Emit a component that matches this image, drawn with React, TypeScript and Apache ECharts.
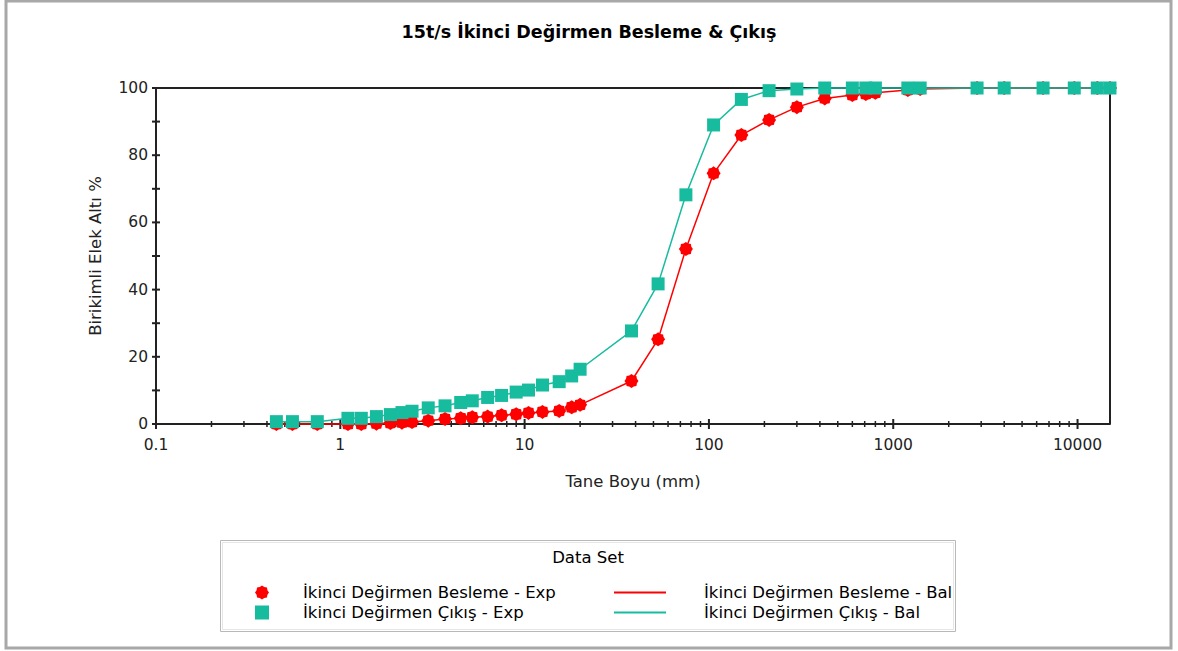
import React, { useEffect, useRef } from "react";
import * as echarts from "echarts";

// ---- data ----
const sizesMm = [
  0.45, 0.55, 0.75, 1.1, 1.3, 1.57, 1.87, 2.16, 2.45, 3.0, 3.7, 4.5, 5.2, 6.3, 7.5, 9.0, 10.5,
  12.5, 15.4, 18, 20, 38, 53, 75, 106, 150, 212, 300, 425, 600, 710, 800, 1200, 1400, 2850,
  4000, 6500, 9600, 12800, 15000,
];
const beslemeExp = [
  0, 0, 0, 0, 0, 0.1, 0.3, 0.4, 0.6, 1.0, 1.5, 1.7, 2.0, 2.2, 2.6, 2.9, 3.3,
  3.6, 3.9, 5.0, 5.7, 12.8, 25.2, 52.1, 74.6, 86.0, 90.5, 94.3, 96.9, 97.9, 98.2, 98.6, 99.4, 99.7, 100,
  100, 100, 100, 100, 100,
];
const cikisExp = [
  0.7, 0.7, 0.7, 1.7, 1.7, 2.2, 2.8, 3.4, 3.8, 4.8, 5.4, 6.4, 6.9, 7.9, 8.5, 9.5, 10.1,
  11.6, 12.6, 14.3, 16.3, 27.7, 41.7, 68.2, 89.0, 96.6, 99.2, 99.7, 100, 100, 100, 100, 100, 100, 100,
  100, 100, 100, 100, 100,
];
const beslemeBal = beslemeExp;
const cikisBal = cikisExp;

const xMajorTicks = [0.1, 1, 10, 100, 1000, 10000];
const xMinorTicks = [
  0.2, 0.3, 0.4, 0.5, 0.6, 0.7, 0.8, 0.9,
  2, 3, 4, 5, 6, 7, 8, 9,
  20, 30, 40, 50, 60, 70, 80, 90,
  200, 300, 400, 500, 600, 700, 800, 900,
  2000, 3000, 4000, 5000, 6000, 7000, 8000, 9000,
];
const yTicks = [0, 10, 20, 30, 40, 50, 60, 70, 80, 90, 100];

const TITLE = "15t/s İkinci Değirmen Besleme & Çıkış";
const NAMES = [
  "İkinci Değirmen Besleme - Exp",
  "İkinci Değirmen Çıkış - Exp",
  "İkinci Değirmen Besleme - Bal",
  "İkinci Değirmen Çıkış - Bal",
];

const RED = "#ff0000";
const TEAL = "#17bc9f";
const FONT = "DejaVu Sans";

// flower-like marker (16-vertex star)
function starPath(): string {
  const pts: string[] = [];
  for (let i = 0; i < 16; i++) {
    const a = (i * Math.PI) / 8 - Math.PI / 2;
    const r = i % 2 === 0 ? 10 : 8.4;
    pts.push(`${(10 + r * Math.cos(a)).toFixed(2)} ${(10 + r * Math.sin(a)).toFixed(2)}`);
  }
  return "path://M" + pts.join(" L") + " Z";
}
const STAR = starPath();

export default function App() {
  const ref = useRef<HTMLDivElement>(null);
  useEffect(() => {
    if (!ref.current) return;
    const chart = echarts.init(ref.current, undefined, { renderer: "svg" });
    const pair = (xs: number[], ys: number[]) => xs.map((x, i) => [x, ys[i]]);
    const tickData = [
      ...xMajorTicks.map((v) => [v, 1, 0]),
      ...xMinorTicks.map((v) => [v, 0, 0]),
    ];
    const yTickData = yTicks.map((v) => [0.1, v % 20 === 0 ? 1 : 0, v]);

    chart.setOption({
      animation: false,
      backgroundColor: "#ffffff",
      textStyle: { fontFamily: FONT },
      title: {
        text: TITLE,
        left: "center",
        top: 18,
        textStyle: { fontFamily: FONT, fontSize: 17.5, fontWeight: "bold", color: "#000" },
      },
      grid: { left: 156, right: 68, top: 88, bottom: 227, containLabel: false },
      xAxis: {
        type: "log",
        logBase: 10,
        min: 0.1,
        max: 15000,
        name: "Tane Boyu (mm)",
        nameLocation: "middle",
        nameGap: 49,
        nameTextStyle: { fontFamily: FONT, fontSize: 16.5, color: "#222" },
        axisLine: { show: true, lineStyle: { color: "#222", width: 2 } },
        axisTick: { show: false },
        minorTick: { show: false },
        splitLine: { show: false },
        axisLabel: {
          margin: 13,
          fontFamily: FONT,
          fontSize: 15.5,
          color: "#222",
          formatter: (v: number) => (v < 1 ? String(v) : String(Math.round(v))),
        },
      },
      yAxis: {
        type: "value",
        min: 0,
        max: 100,
        interval: 20,
        name: "Birikimli Elek Altı %",
        nameLocation: "middle",
        nameGap: 52,
        nameTextStyle: { fontFamily: FONT, fontSize: 16.5, color: "#222" },
        axisLine: { show: true, lineStyle: { color: "#222", width: 2 } },
        axisTick: { show: false },
        splitLine: { show: false },
        axisLabel: { margin: 8, fontFamily: FONT, fontSize: 15.5, color: "#222" },
      },
      legend: [
        {
          data: [NAMES[0], NAMES[1]],
          orient: "vertical",
          left: 250,
          top: 579,
          itemWidth: 14,
          itemHeight: 14,
          itemGap: 3,
          selectedMode: false,
          textStyle: { fontFamily: FONT, fontSize: 16.5, color: "#000", padding: [0, 0, 0, 29] },
        },
        {
          data: [NAMES[2], NAMES[3]],
          orient: "vertical",
          left: 608,
          top: 579,
          itemWidth: 52,
          itemHeight: 14,
          itemGap: 3,
          selectedMode: false,
          itemStyle: { opacity: 0 },
          textStyle: { fontFamily: FONT, fontSize: 16.5, color: "#000", padding: [0, 0, 0, 33] },
        },
      ],
      graphic: [
        {
          type: "rect",
          shape: { x: 6, y: 1, width: 1165, height: 647 },
          style: { fill: "none", stroke: "#a8a8a8", lineWidth: 3 },
          silent: true,
          z: 0,
        },
        {
          type: "rect",
          shape: { x: 220.5, y: 540.5, width: 735, height: 91 },
          style: { fill: "none", stroke: "#b8b8b8", lineWidth: 1 },
          silent: true,
        },
        {
          type: "rect",
          shape: { x: 222.5, y: 542.5, width: 731, height: 87 },
          style: { fill: "none", stroke: "#e6e6e6", lineWidth: 1 },
          silent: true,
        },
        {
          type: "text",
          x: 588,
          y: 557,
          style: {
            text: "Data Set",
            fontFamily: FONT,
            fontSize: 16.5,
            fill: "#000",
            align: "center",
            verticalAlign: "middle",
          },
          silent: true,
        },
        {
          type: "line",
          shape: { x1: 156, y1: 88, x2: 1110, y2: 88 },
          style: { stroke: "#222", lineWidth: 2 },
          silent: true,
          z: 1,
        },
        {
          type: "line",
          shape: { x1: 1110, y1: 88, x2: 1110, y2: 424 },
          style: { stroke: "#222", lineWidth: 2 },
          silent: true,
          z: 1,
        },
      ],
      series: [
        {
          name: "xticks",
          type: "custom",
          clip: false,
          silent: true,
          data: tickData,
          renderItem: (params: any, api: any) => {
            const p = api.coord([api.value(0), 0]);
            const len = api.value(1) ? 5 : 3;
            return {
              type: "line",
              shape: { x1: p[0], y1: p[1] - len, x2: p[0], y2: p[1] + len },
              style: { stroke: "#222", lineWidth: api.value(1) ? 2 : 1.5 },
            };
          },
          z: 1,
        },
        {
          name: "yticks",
          type: "custom",
          clip: false,
          silent: true,
          data: yTickData,
          renderItem: (params: any, api: any) => {
            const p = api.coord([0.1, api.value(2)]);
            const len = 4;
            return {
              type: "line",
              shape: { x1: p[0] - len, y1: p[1], x2: p[0] + len, y2: p[1] },
              style: { stroke: "#222", lineWidth: 2 },
            };
          },
          z: 1,
        },
        {
          name: NAMES[2],
          type: "line",
          data: pair(sizesMm, beslemeBal),
          symbol: "none",
          clip: false,
          lineStyle: { color: RED, width: 1.5 },
          itemStyle: { color: RED },
          z: 2,
        },
        {
          name: NAMES[0],
          type: "scatter",
          data: pair(sizesMm, beslemeExp),
          symbol: STAR,
          symbolSize: 14,
          clip: false,
          itemStyle: { color: RED, opacity: 1 },
          z: 3,
        },
        {
          name: NAMES[3],
          type: "line",
          data: pair(sizesMm, cikisBal),
          symbol: "none",
          clip: false,
          lineStyle: { color: TEAL, width: 1.5 },
          itemStyle: { color: TEAL },
          z: 4,
        },
        {
          name: NAMES[1],
          type: "scatter",
          data: pair(sizesMm, cikisExp),
          symbol: "rect",
          symbolSize: 13,
          clip: false,
          itemStyle: { color: TEAL, opacity: 1 },
          z: 5,
        },
      ],
    });
    return () => chart.dispose();
  }, []);
  return (
    <div
      ref={ref}
      style={{ position: "fixed", left: 0, top: 0, width: 1178, height: 651 }}
    />
  );
}
